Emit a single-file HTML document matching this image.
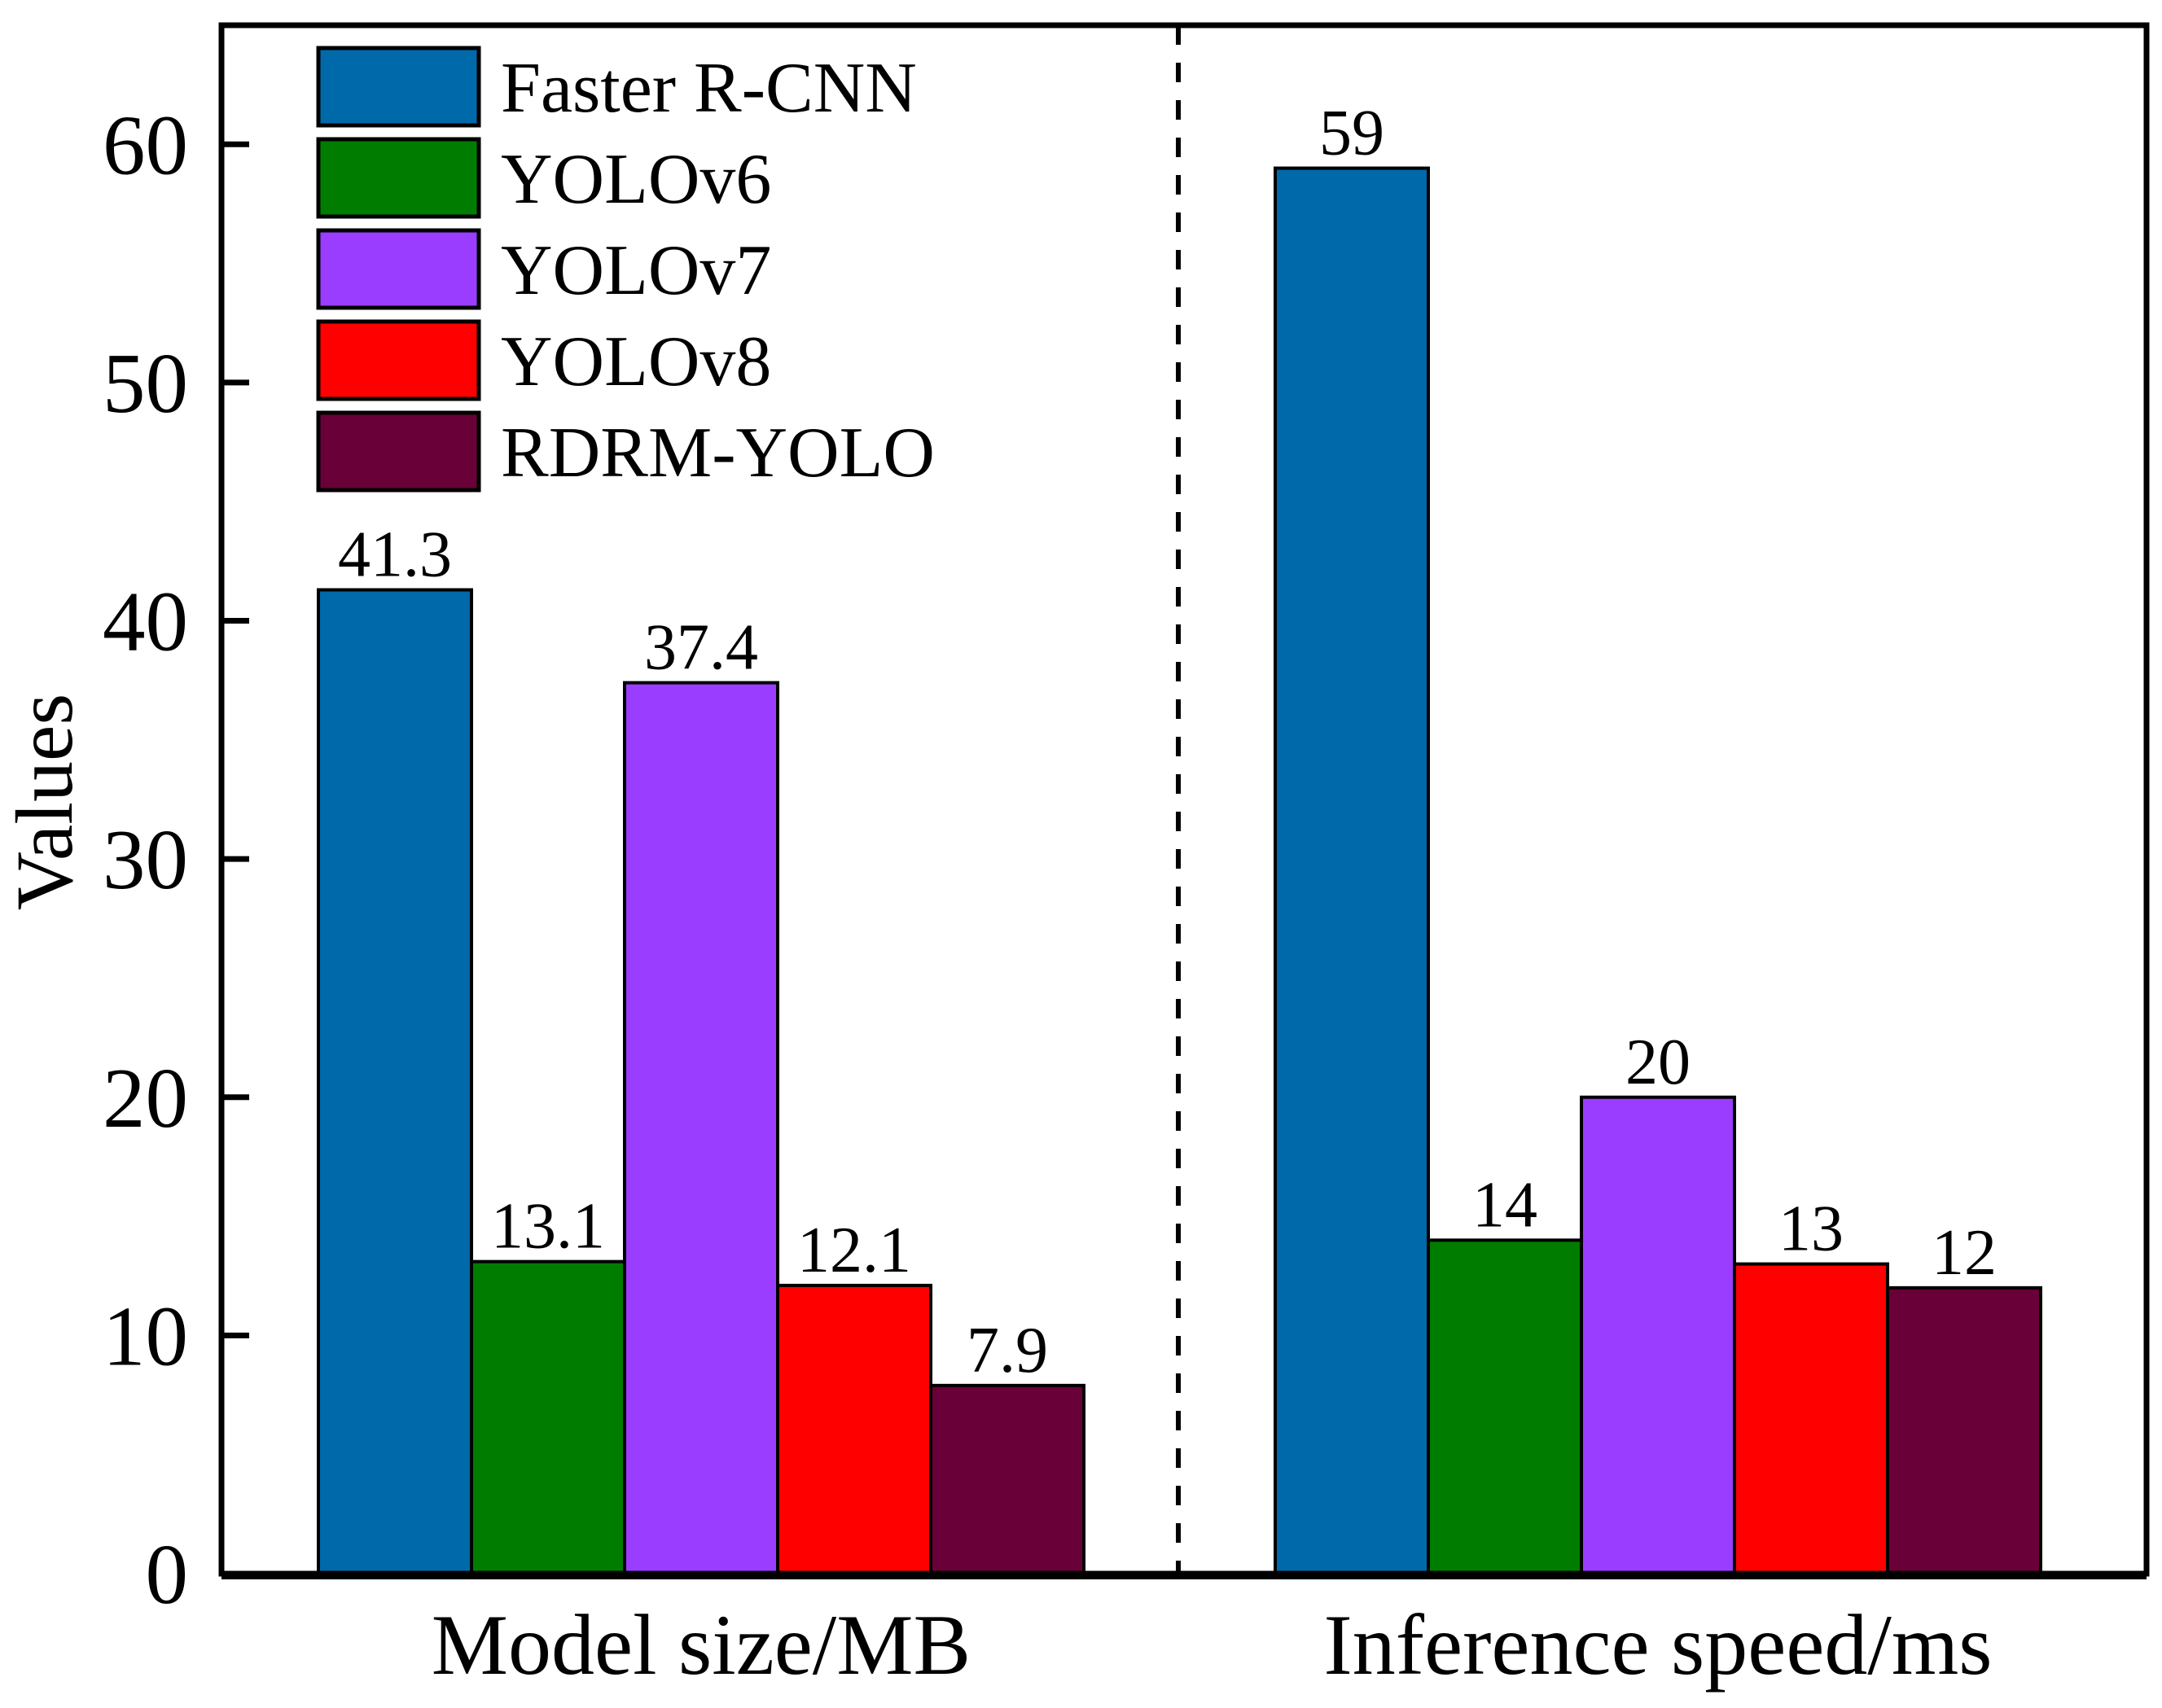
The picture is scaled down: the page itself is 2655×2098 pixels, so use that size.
<!DOCTYPE html>
<html><head><meta charset="utf-8"><style>
html,body{margin:0;padding:0;background:#fff;}
svg{display:block;font-family:"Liberation Serif","Times New Roman",serif;}
</style></head><body>
<svg id="chart" width="2655" height="2098" viewBox="0 0 2655 2098" xmlns="http://www.w3.org/2000/svg">
<g id="bars"></g>
<g id="labels"></g>
<g id="axes"></g>
<g id="legend"></g>
</svg>
<script>
const categories = ["Model size/MB", "Inference speed/ms"];
const seriesNames = ["Faster R-CNN", "YOLOv6", "YOLOv7", "YOLOv8", "RDRM-YOLO"];
const seriesColors = ["#0069AA", "#007D00", "#9A3DFF", "#FF0000", "#6A0038"];
const modelSize = [41.3, 13.1, 37.4, 12.1, 7.9];
const inferenceSpeed = [59, 14, 20, 13, 12];
const valueLabels = [["41.3","13.1","37.4","12.1","7.9"],["59","14","20","13","12"]];
const yTicks = [0, 10, 20, 30, 40, 50, 60];

const NS = "http://www.w3.org/2000/svg";
const L = 272, R = 2636, T = 31, B = 1933, yMax = 65;
const y = v => B - v / yMax * (B - T);
const groupStart = [391, 1566], barW = 188;
const data = [modelSize, inferenceSpeed];
function mk(tag, attrs, parent, text) {
  const e = document.createElementNS(NS, tag);
  for (const k in attrs) e.setAttribute(k, attrs[k]);
  if (text !== undefined) e.textContent = text;
  parent.appendChild(e);
  return e;
}
const gb = document.getElementById("bars"), gl = document.getElementById("labels"),
      ga = document.getElementById("axes"), gleg = document.getElementById("legend");

data.forEach((vals, gi) => {
  vals.forEach((v, si) => {
    const x0 = groupStart[gi] + si * barW;
    const r = mk("rect", {x: x0, y: y(v), width: barW, height: B - y(v), fill: seriesColors[si], stroke: "#000", "stroke-width": 4}, gb);
    
    
    const t = mk("text", {x: x0 + barW / 2, y: y(v) - 17, "font-size": 80, "text-anchor": "middle"}, gl, valueLabels[gi][si]);
    
    
  });
});

const dl = mk("line", {x1: 1447, y1: T, x2: 1447, y2: B, stroke: "#000", "stroke-width": 6, "stroke-dasharray": "24 22"}, ga);



const fr = mk("rect", {x: L, y: T, width: R - L, height: B - T, fill: "none", stroke: "#000", "stroke-width": 7}, ga);


const bl = mk("line", {x1: L, y1: B + 2, x2: R, y2: B + 2, stroke: "#000", "stroke-width": 10}, ga);



yTicks.forEach(v => {
  const tk = mk("line", {x1: L, y1: y(v), x2: L + 34, y2: y(v), stroke: "#000", "stroke-width": 7}, ga);
  
  
  const tl = mk("text", {x: 231, y: y(v) + 36, "font-size": 105, "text-anchor": "end"}, ga, String(v));
  
  
});

categories.forEach((c, gi) => {
  const cx = groupStart[gi] + barW * 2.5;
  const t = mk("text", {x: cx, y: 2056, "font-size": 106, "text-anchor": "middle"}, ga, c);
  
  
});

const yt = mk("text", {x: 0, y: 0, "font-size": 100, "text-anchor": "middle", transform: "translate(88,985) rotate(-90)"}, ga, "Values");



seriesNames.forEach((n, i) => {
  const top = 59 + i * 112;
  const b = mk("rect", {x: 391, y: top, width: 197, height: 95, fill: seriesColors[i], stroke: "#000", "stroke-width": 5}, gleg);
  
  
  const t = mk("text", {x: 615, y: top + 78, "font-size": 88}, gleg, n);
  
  
});
</script>
</body></html>
